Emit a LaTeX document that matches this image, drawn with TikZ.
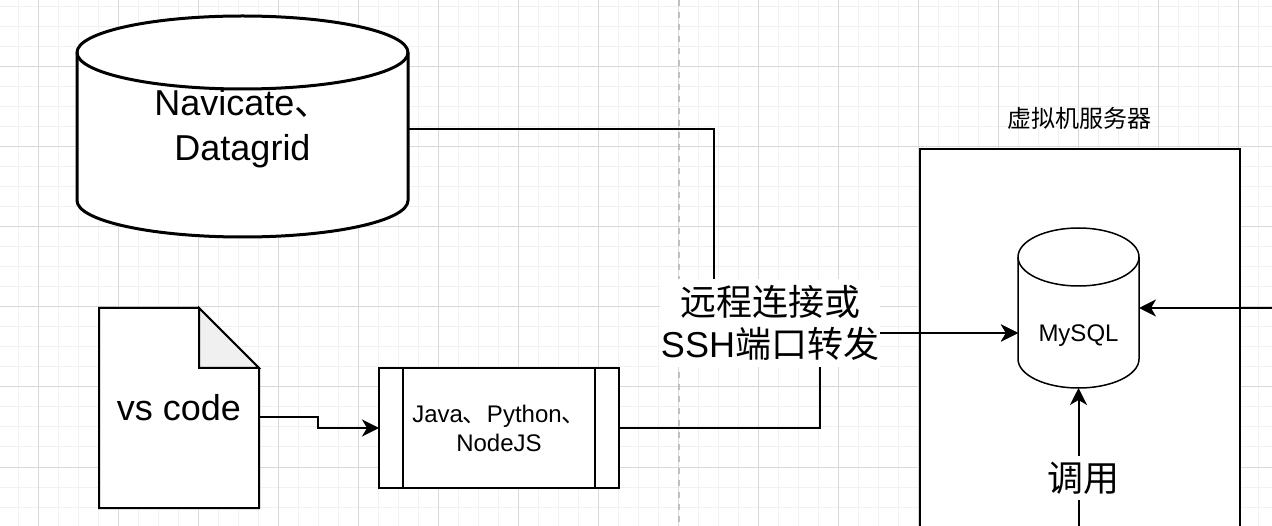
\documentclass[tikz,border=0pt]{standalone}
\usepackage{fontspec}
\setmainfont{Liberation Sans}
\newfontfamily\cjk{Noto Sans CJK SC}
\usepackage{tikz}
\usetikzlibrary{arrows.meta}
\definecolor{gridminor}{HTML}{F1F1F1}
\definecolor{gridmajor}{HTML}{D9D9D9}
\definecolor{pagebreak}{HTML}{C0C0C0}
\definecolor{foldgray}{HTML}{F0F0F0}
\tikzstyle{arrow} = [line width=2pt,-{Stealth[length=17pt,width=17pt,inset=5pt]}]
\tikzstyle{bigtext} = [font=\fontsize{36}{43}\selectfont, align=center, inner sep=0pt, outer sep=0pt]
\tikzstyle{smalltext} = [font=\fontsize{24}{29}\selectfont, align=center, inner sep=0pt, outer sep=0pt]

\begin{document}
\begin{tikzpicture}[x=1pt,y=-1pt]
	\useasboundingbox (0,0) rectangle (1272,526);
	\clip (0,0) rectangle (1272,526);
	% grid
	\fill[white] (0,0) rectangle (1272,526);
	\foreach \x in {18,38,...,1258} \draw[gridminor, line width=1pt] (\x,0) -- (\x,526);
	\foreach \y in {7,27,...,527} \draw[gridminor, line width=1pt] (0,\y) -- (1272,\y);
	\foreach \x in {38,118,...,1238} \draw[gridmajor, line width=1pt] (\x,0) -- (\x,526);
	\foreach \y in {67,147,...,467} \draw[gridmajor, line width=1pt] (0,\y) -- (1272,\y);
	\draw[pagebreak, line width=1.5pt, dash pattern=on 6pt off 6pt] (679,0) -- (679,526);

	% server
	\node[draw, fill=white, line width=2pt, minimum width=320pt, minimum height=400pt, anchor=north west, inner sep=0pt] (server) at (919,148) {};
	\node[smalltext] (servertitle) at (1079,118) {\cjk 虚拟机服务器};

	% navicate cylinder
	\filldraw[fill=white, line width=3pt] (77,52.5) -- (77,200.5) arc[start angle=180, end angle=0, x radius=165.5, y radius=36.5] -- (408,52.5) arc[start angle=0, end angle=-180, x radius=165.5, y radius=36.5] -- cycle;
	\draw[line width=3pt] (77,52.5) arc[start angle=180, end angle=0, x radius=165.5, y radius=36.5];
	\node[bigtext, font=\fontsize{36}{45}\selectfont, minimum width=331pt, minimum height=221pt] (db) at (242.5,129) {Navicate{\cjk 、}\\Datagrid};

	% vs code
	\filldraw[fill=white, line width=2pt] (99,308) -- (199,308) -- (259,368) -- (259,508) -- (99,508) -- cycle;
	\filldraw[fill=foldgray, line width=2pt] (199,308) -- (199,368) -- (259,368) -- cycle;
	\node[bigtext, minimum width=160pt, minimum height=200pt] (vscode) at (179,408) {vs code};

	% java box
	\node[smalltext, draw, fill=white, line width=2.5pt, minimum width=240pt, minimum height=120pt] (java) at (499,428) {Java{\cjk 、}Python{\cjk 、}\\NodeJS};
	\draw[line width=2.5pt] ([xshift=24pt]java.north west) -- ([xshift=24pt]java.south west);
	\draw[line width=2.5pt] ([xshift=-24pt]java.north east) -- ([xshift=-24pt]java.south east);

	% mysql cylinder
	\filldraw[fill=white, line width=1.5pt] (1018,257) -- (1018,359) arc[start angle=180, end angle=0, x radius=60.5, y radius=29] -- (1139,257) arc[start angle=0, end angle=-180, x radius=60.5, y radius=29] -- cycle;
	\draw[line width=1.5pt] (1018,257) arc[start angle=180, end angle=0, x radius=60.5, y radius=29];
	\node[minimum width=121pt, minimum height=160pt, inner sep=0pt, outer sep=0pt] (mysql) at (1078.5,308) {};
	\node[smalltext] (mysqltext) at (1078.5,336) {MySQL};

	% connectors
	\coordinate (mysqlin) at ([yshift=-25pt]mysql.west);
	\coordinate (dbbend) at (714,129);
	\coordinate (javabend) at (820,400);
	\coordinate (vsbend) at (318,428);
	\coordinate (extsrc) at (1272,308);
	\coordinate (callsrc) at (1078.5,526);
	\draw[arrow] ([yshift=-9pt]vscode.east) -| (vsbend) -- (java.west);
	\draw[arrow] (db.east) -- (dbbend) |- (mysqlin);
	\draw[arrow] (java.east) -| (javabend) |- (mysqlin);
	\draw[arrow] (extsrc) -- (mysql.east);
	\draw[arrow] (callsrc) -- (mysql.south);

	% labels
	\node[bigtext, font=\fontsize{36}{42}\selectfont, fill=white, inner xsep=1pt, inner ysep=6pt] (ssh) at (770,323) {{\cjk 远程连接或}\\SSH{\cjk 端口转发}};
	\node[bigtext, fill=white, inner xsep=1pt, inner ysep=6pt] (call) at (1083,478) {\cjk 调用};
\end{tikzpicture}
\end{document}
